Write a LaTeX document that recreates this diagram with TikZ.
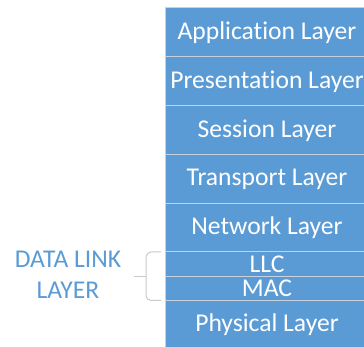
\documentclass[tikz,border=0pt]{standalone}
\usepackage{fontspec}
\setmainfont{Carlito}[Ligatures=NoCommon]
\usetikzlibrary{positioning, calc}
\definecolor{osiblue}{HTML}{5B9BD5}
\definecolor{sepgray}{HTML}{C9D2DC}
\definecolor{bracegray}{HTML}{CACACA}

\begin{document}
\begin{tikzpicture}[
  x=1pt, y=-1pt,
  node distance=0pt,
  layer/.style={rectangle, draw=sepgray, line width=1pt, fill=osiblue, text=white,
    minimum width=204pt, inner sep=0pt, outer sep=0pt, font=\fontsize{25.6}{28}\selectfont},
  tall/.style={layer, minimum height=49pt},
  slim/.style={layer, minimum height=24.5pt},
  brace/.style={draw=bracegray, line width=1pt}
]
\useasboundingbox (0,0) rectangle (364,347);

% OSI stack
\node[tall, anchor=north west] (app) at (165,8) {Application Layer};
\node[tall, below=of app] (pres) {Presentation Layer};
\node[tall, below=of pres] (sess) {Session Layer};
\node[tall, below=of sess] (trans) {Transport Layer};
\node[tall, below=of trans, minimum height=48pt] (net) {Network Layer};
\node[slim, below=of net] (llc) {LLC};
\node[slim, below=of llc, minimum height=24pt] (mac) {MAC};
\node[tall, below=of mac] (phys) {Physical Layer};

% data link label with brace
\node[text=osiblue, align=center, font=\fontsize{25.6}{31}\selectfont] (dll) at (68,275) {DATA LINK\\LAYER};
\coordinate (btop) at ([xshift=-4pt]llc.north west);
\coordinate (bbot) at ([xshift=-4pt]mac.south west);
\coordinate (bmid) at ($(btop)!0.5!(bbot)+(-15,0)$);
\draw[brace, rounded corners=5pt] (btop) -- ++(-15,0) |- (bbot);
\draw[brace] (bmid) -- ++(-12,0);

\end{tikzpicture}
\end{document}
